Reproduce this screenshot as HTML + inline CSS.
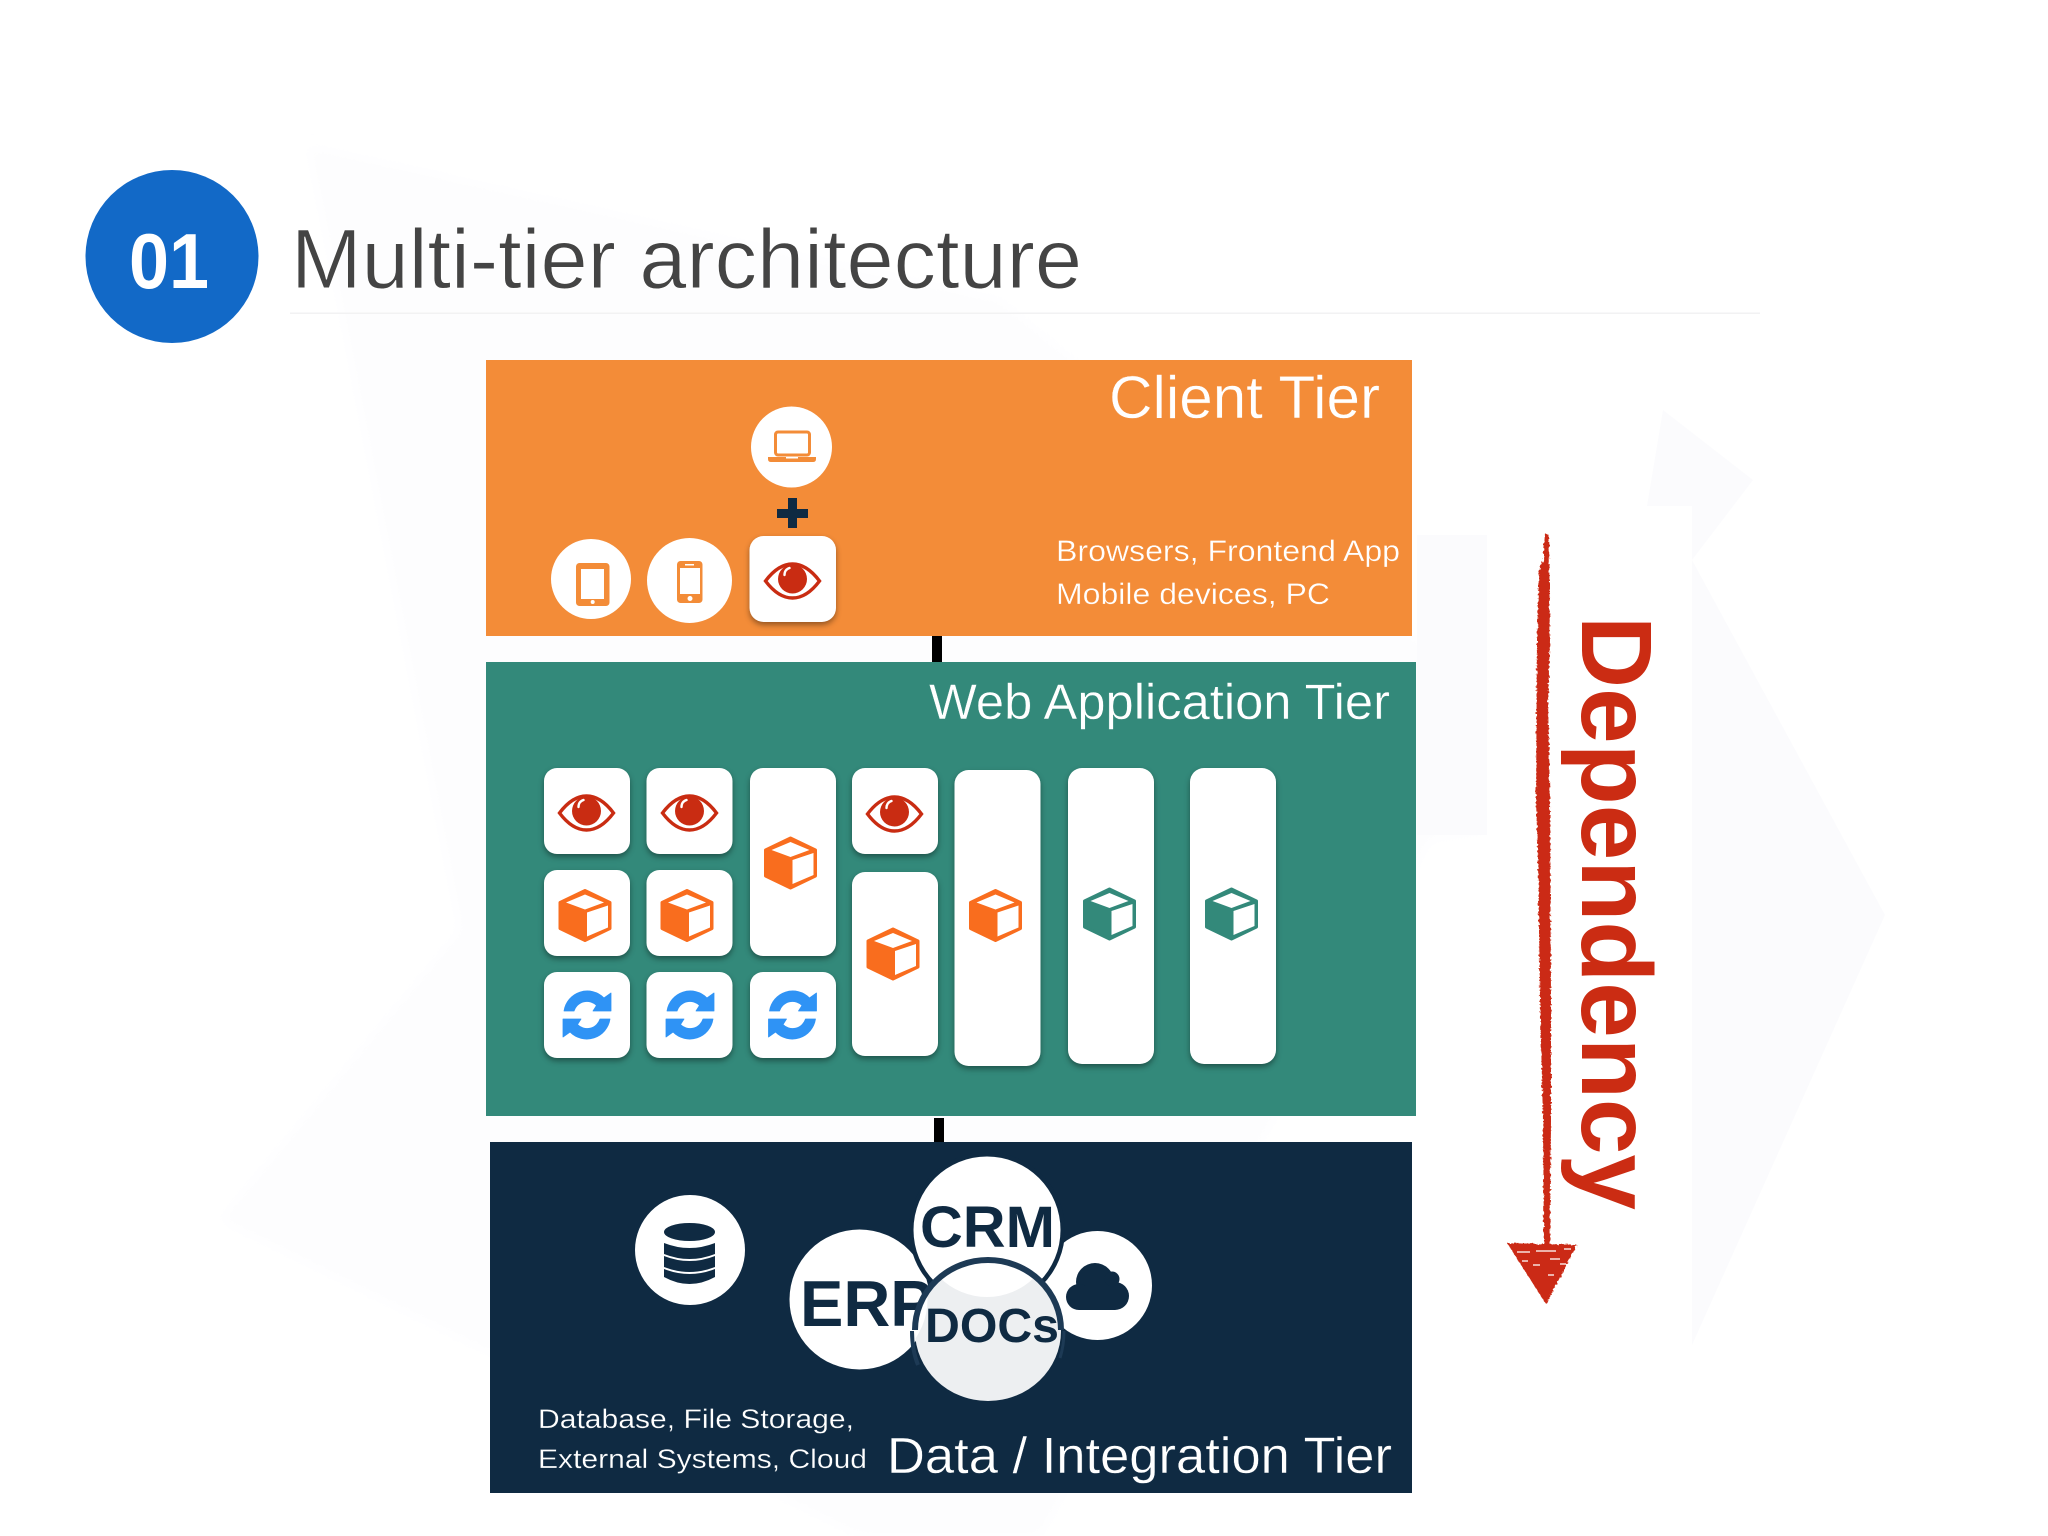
<!DOCTYPE html>
<html lang="en">
<head>
<meta charset="utf-8">
<title>Multi-tier architecture</title>
<style>
html,body{margin:0;padding:0;background:#fff;width:2048px;height:1536px;overflow:hidden}
svg{display:block}
text{font-family:"Liberation Sans",Arial,sans-serif}
.tile{filter:drop-shadow(0 3px 3px rgba(0,0,0,.38))}
</style>
</head>
<body>
<svg xmlns="http://www.w3.org/2000/svg" width="2048" height="1536" viewBox="0 0 2048 1536">
<defs>
<filter id="rough" x="-30%" y="-5%" width="160%" height="110%">
<feTurbulence type="fractalNoise" baseFrequency="0.35" numOctaves="2" seed="4"/>
<feDisplacementMap in="SourceGraphic" scale="4"/>
</filter>
<filter id="soft" x="-5%" y="-5%" width="110%" height="110%"><feGaussianBlur stdDeviation="6"/></filter>
<g id="eye">
<path d="M-27,0C-18,-12 -9,-17 0,-17C9,-17 18,-12 27,0C18,12 9,17 0,17C-9,17 -18,12 -27,0Z" fill="#fff" stroke="#c92c12" stroke-width="3.400"/>
<circle cx="0" cy="-2" r="14.500" fill="#c92c12"/>
<path d="M-8,-6C-8,-10 -6,-12 -3,-13" fill="none" stroke="#fff" stroke-width="2.400" stroke-linecap="round"/>
</g>
<g id="cubeO">
<path d="M0,-25L25,-13V13L0,25L-25,13V-13Z" fill="#f96d1e" stroke="#f96d1e" stroke-width="3" stroke-linejoin="round"/>
<path d="M0,-21L19,-13L0,-6L-19,-13Z" fill="#fff"/>
<path d="M2,-3L23,-10V12L2,21Z" fill="#fff"/>
</g>
<g id="cubeT">
<path d="M0,-25L25,-13V13L0,25L-25,13V-13Z" fill="#33897a" stroke="#33897a" stroke-width="3" stroke-linejoin="round"/>
<path d="M0,-21L19,-13L0,-6L-19,-13Z" fill="#fff"/>
<path d="M2,-3L23,-10V12L2,21Z" fill="#fff"/>
</g>
<g id="sync" fill="#2f93f5" stroke="#2f93f5" stroke-width=".8" stroke-linejoin="round">
<path d="M-23,-4A23.500,23.500 0 0 1 17,-17L24,-22V-4H6L9.500,-9.500A13.500,13.500 0 0 0 -13,-4Z"/>
<path d="M23,4A23.500,23.500 0 0 1 -17,17L-24,22V4H-6L-9.500,9.500A13.500,13.500 0 0 0 13,4Z"/>
</g>
<clipPath id="docClip"><ellipse cx="988" cy="1331" rx="73" ry="70"/></clipPath>
</defs>

<!-- faint background watermark -->
<rect width="2048" height="1536" fill="#fff"/>
<g fill="#fdfdfe" filter="url(#soft)">
<polygon points="308,146 1000,300 1490,700 1490,830 1430,840 1040,1536 860,1536 220,1220 460,930 345,330"/>
</g>
<g fill="#fbfbfd">
<polygon points="1647,506 1663,410 1753,480 1692,560 1885,915 1692,1345"/>
<rect x="1417" y="535" width="70" height="300"/>
</g>
<rect x="1487" y="533" width="205" height="815" fill="#fff"/>
<rect x="1600" y="506" width="92" height="30" fill="#fff"/>

<!-- title -->
<circle cx="172" cy="256.500" r="86.500" fill="#1269c7"/>
<text x="129" y="288" font-size="78" font-weight="700" fill="#fff" textLength="80" lengthAdjust="spacingAndGlyphs">01</text>
<text x="291" y="288" font-size="84" fill="#444" stroke="#fff" stroke-width=".9" textLength="791" lengthAdjust="spacingAndGlyphs">Multi-tier architecture</text>
<rect x="290" y="312.500" width="1470" height="1.500" fill="#f2f2f3"/>

<!-- connectors -->
<rect x="932" y="636" width="10" height="26" fill="#000"/>
<rect x="934" y="1118" width="10" height="24" fill="#000"/>

<!-- client tier -->
<rect x="486" y="360" width="926" height="276" fill="#f38c38"/>
<text x="1109" y="418" font-size="60" fill="#fff" stroke="#f38c38" stroke-width=".4" textLength="271" lengthAdjust="spacingAndGlyphs">Client Tier</text>
<text x="1056" y="561" font-size="30" fill="#fff" stroke="#f38c38" stroke-width=".3" textLength="344" lengthAdjust="spacingAndGlyphs">Browsers, Frontend App</text>
<text x="1056" y="604" font-size="30" fill="#fff" stroke="#f38c38" stroke-width=".3" textLength="274" lengthAdjust="spacingAndGlyphs">Mobile devices, PC</text>

<circle cx="791.500" cy="447" r="40.500" fill="#fff"/>
<rect x="775.500" y="432" width="34" height="23" rx="2.500" fill="#fff" stroke="#f38c38" stroke-width="3"/>
<path d="M768,457H816V459Q816,462 813,462H771Q768,462 768,459Z" fill="#f38c38"/>
<rect x="786" y="457" width="12" height="1.500" fill="#fff"/>

<rect x="777" y="509" width="31" height="9" fill="#0f2a42"/>
<rect x="788" y="498" width="9" height="30" fill="#0f2a42"/>

<circle cx="591" cy="579" r="40" fill="#fff"/>
<rect x="576" y="563" width="33.500" height="43" rx="3.500" fill="#f38c38"/>
<rect x="581" y="569" width="23" height="30" fill="#fff"/>
<circle cx="592.700" cy="602" r="2" fill="#fff"/>

<ellipse cx="689.500" cy="580.500" rx="42.500" ry="42.500" fill="#fff"/>
<rect x="677" y="561" width="25.500" height="42" rx="3.500" fill="#f38c38"/>
<rect x="680" y="568" width="20" height="26" fill="#fff"/>
<rect x="685" y="564" width="9" height="1.500" fill="#fff"/>
<circle cx="690" cy="598.500" r="2.500" fill="#fff"/>

<g class="tile"><rect x="749.500" y="536" width="86.500" height="86" rx="14" fill="#fff"/></g>
<use href="#eye" x="792.500" y="581"/>

<!-- web tier -->
<rect x="486" y="662" width="930" height="454" fill="#33897a"/>
<text x="929" y="719" font-size="50" fill="#fff" stroke="#33897a" stroke-width=".4" textLength="461" lengthAdjust="spacingAndGlyphs">Web Application Tier</text>

<g class="tile" fill="#fff">
<rect x="544" y="768" width="86" height="86" rx="13"/>
<rect x="646.500" y="768" width="86" height="86" rx="13"/>
<rect x="544" y="870" width="86" height="86" rx="13"/>
<rect x="646.500" y="870" width="86" height="86" rx="13"/>
<rect x="544" y="972" width="86" height="86" rx="13"/>
<rect x="646.500" y="972" width="86" height="86" rx="13"/>
<rect x="750" y="768" width="86" height="188" rx="13"/>
<rect x="750" y="972" width="86" height="86" rx="13"/>
<rect x="852" y="768" width="86" height="86" rx="13"/>
<rect x="852" y="872" width="86" height="184" rx="13"/>
<rect x="954.500" y="770" width="86" height="296" rx="14"/>
<rect x="1068" y="768" width="86" height="296" rx="14"/>
<rect x="1190" y="768" width="86" height="296" rx="14"/>
</g>
<use href="#eye" x="586.500" y="813"/>
<use href="#eye" x="689.500" y="813"/>
<use href="#eye" x="894.500" y="814"/>
<use href="#cubeO" x="585" y="915.500"/>
<use href="#cubeO" x="687" y="915.500"/>
<use href="#cubeO" x="790.500" y="863"/>
<use href="#cubeO" x="893" y="954"/>
<use href="#cubeO" x="995.500" y="915.500"/>
<use href="#cubeT" x="1109.500" y="914"/>
<use href="#cubeT" x="1231.500" y="914"/>
<use href="#sync" x="587" y="1015"/>
<use href="#sync" x="690" y="1015"/>
<use href="#sync" x="792.500" y="1015"/>

<!-- data tier -->
<rect x="490" y="1142" width="922" height="351" fill="#0f2a42"/>

<circle cx="690" cy="1250" r="55" fill="#fff"/>
<g fill="#0f2a42">
<ellipse cx="689.500" cy="1232" rx="25.500" ry="9"/>
<path d="M664,1243Q689.500,1253 715,1243V1254Q689.500,1264 664,1254Z"/>
<path d="M664,1256Q689.500,1266 715,1256V1267Q689.500,1277 664,1267Z"/>
<path d="M664,1269Q689.500,1279 715,1269V1277Q689.500,1291 664,1277Z"/>
</g>

<circle cx="859.500" cy="1299.500" r="70" fill="#fff"/>
<text x="800" y="1326" font-size="65" font-weight="700" fill="#0f2a42">ERP</text>

<circle cx="1097.500" cy="1285.500" r="54.500" fill="#fff"/>
<g fill="#0f2a42">
<circle cx="1095" cy="1282" r="19"/>
<circle cx="1079" cy="1297" r="13"/>
<circle cx="1115" cy="1296" r="14"/>
<circle cx="1112" cy="1279" r="7.500"/>
<rect x="1079" y="1290" width="36" height="20"/>
</g>

<circle cx="987" cy="1230" r="78" fill="#0f2a42"/>
<circle cx="987" cy="1230" r="73.500" fill="#fff"/>
<text x="920" y="1247" font-size="58" font-weight="700" fill="#0f2a42" textLength="135" lengthAdjust="spacingAndGlyphs">CRM</text>

<ellipse cx="988" cy="1331" rx="73" ry="70" fill="#edeff1"/>
<g clip-path="url(#docClip)" fill="#fff">
<circle cx="987" cy="1230" r="67"/>
<circle cx="858.500" cy="1299.500" r="69"/>
</g>
<path d="M915,1331A73,70 0 0 1 1061,1331" fill="none" stroke="#1d3a55" stroke-width="6" transform="translate(0,-1)"/>
<path d="M912,1331Q912,1350 918,1365" fill="none" stroke="#1d3a55" stroke-width="4"/>
<path d="M1064,1331Q1064,1345 1060,1358" fill="none" stroke="#1d3a55" stroke-width="3"/>
<text x="925" y="1342" font-size="48" font-weight="700" fill="#0f2a42" textLength="134" lengthAdjust="spacingAndGlyphs">DOCs</text>

<text x="538" y="1428" font-size="27" fill="#fff" stroke="#0f2a42" stroke-width=".25" textLength="316" lengthAdjust="spacingAndGlyphs">Database, File Storage,</text>
<text x="538" y="1468" font-size="27" fill="#fff" stroke="#0f2a42" stroke-width=".25" textLength="329" lengthAdjust="spacingAndGlyphs">External Systems, Cloud</text>
<text x="887" y="1473" font-size="51" fill="#fff" stroke="#0f2a42" stroke-width=".4" textLength="505" lengthAdjust="spacingAndGlyphs">Data / Integration Tier</text>

<!-- dependency -->
<g filter="url(#rough)" fill="#cb2c13">
<path d="M1545,533L1549,535L1550,640L1548,700L1550,800L1551,1000L1551,1120L1550,1245L1544,1245L1543,1120L1540,1000L1538,860L1536,800L1537,640L1539,570L1543,560Z"/>
<path d="M1507,1243L1577,1245L1546,1304Z"/>
</g>
<g stroke="#fff" stroke-width="1.600" opacity=".85">
<path d="M1517,1252H1530M1536,1251H1556M1564,1249H1571M1522,1261H1528M1550,1259H1560M1533,1265H1540M1560,1264H1566M1548,1275H1554"/>
</g>
<text transform="translate(1582,616) rotate(90)" font-size="100" font-weight="700" fill="#cb2c13" textLength="594" lengthAdjust="spacingAndGlyphs">Dependency</text>
</svg>
</body>
</html>
